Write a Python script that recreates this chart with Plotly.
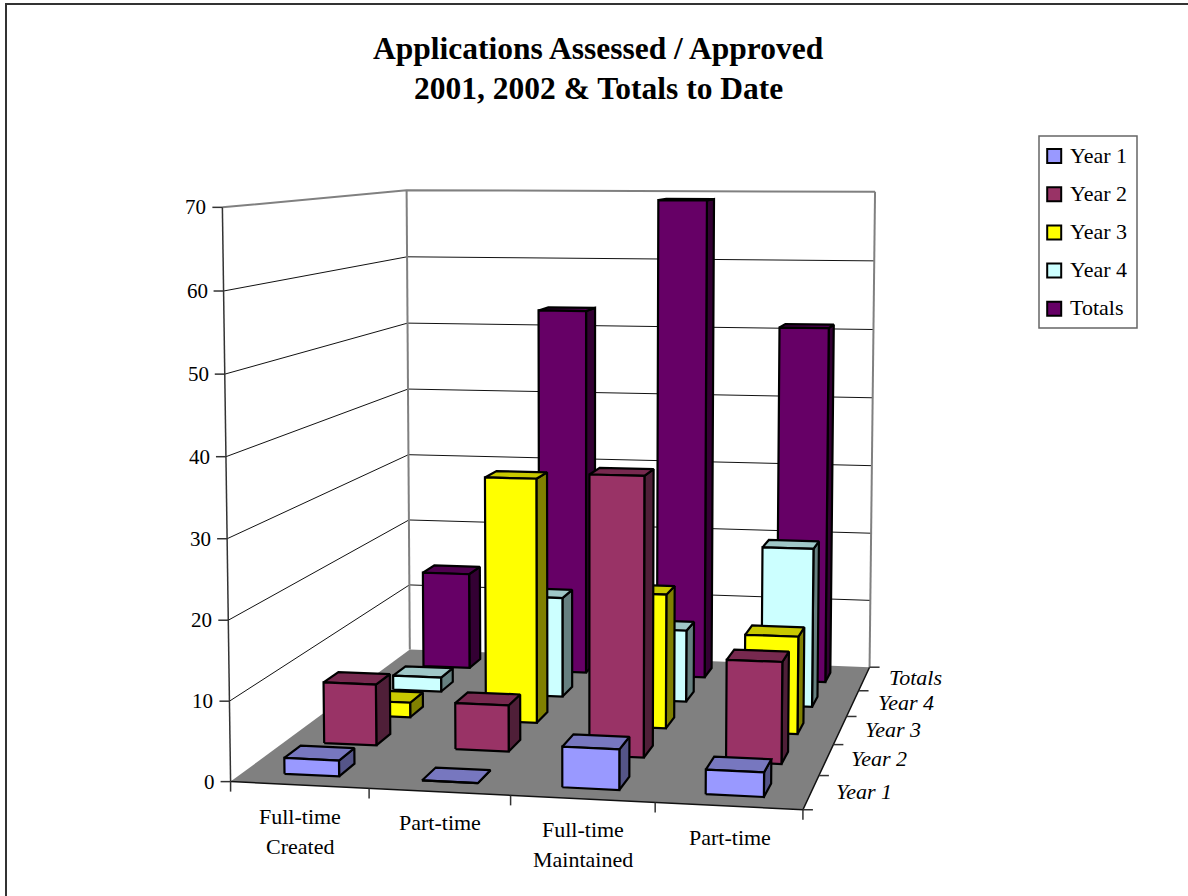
import numpy as np
import plotly.graph_objects as go

# Chart values
category_lines = [["Full-time", "Created"], ["Part-time"], ["Full-time", "Maintained"], ["Part-time"]]
series_names = ["Year 1", "Year 2", "Year 3", "Year 4", "Totals"]
year1 = [2, 0, 5, 3]
year2 = [8, 6, 36, 13]
year3 = [2, 33, 18, 13]
year4 = [2, 14, 10, 22]
totals = [14, 53, 69, 51]
value_ticks = [0, 10, 20, 30, 40, 50, 60, 70]
title_lines = ["Applications Assessed / Approved", "2001, 2002 & Totals to Date"]

# Face shades per series
front_colors = ["#9999FF", "#993366", "#FFFF00", "#CCFFFF", "#660066"]
top_colors = ["#7777BF", "#77294F", "#C8C800", "#9FC7C7", "#4F004F"]
side_colors = ["#555588", "#4F1F38", "#808000", "#668080", "#330033"]

WIDTH, HEIGHT = 1188, 896
SERIF = "Liberation Serif"
N_CAT, N_SER, Z_MAX = 4, 5, 70
BAR_LO, BAR_HI = 0.3, 0.7

# Perspective camera of the chart box, solved from where its corners sit on the page
box_corners = [
    ((0, 0, 0), (230.3, 781.7)), ((4, 0, 0), (803.3, 809.3)),
    ((4, 5, 0), (869.3, 667.7)), ((0, 5, 0), (410.0, 649.3)),
    ((0, 0, 70), (222.3, 207.7)), ((0, 5, 70), (406.7, 190.0)),
    ((4, 5, 70), (875.0, 191.7)),
]
rows = []
for (x, y, z), (u, v) in box_corners:
    rows.append([x, y, z, 1, 0, 0, 0, 0, -u * x, -u * y, -u * z, -u])
    rows.append([0, 0, 0, 0, x, y, z, 1, -v * x, -v * y, -v * z, -v])
CAMERA = np.linalg.svd(np.array(rows, float))[2][-1].reshape(3, 4)


def project(x, y, z):
    p = CAMERA @ np.array([x, y, z, 1.0])
    return p[0] / p[2], p[1] / p[2]


def polyline(points):
    xs, ys = zip(*[project(*p) for p in points])
    return list(xs), list(ys)


fig = go.Figure()


def add_line(points, color, width):
    xs, ys = polyline(points)
    fig.add_trace(go.Scatter(x=xs, y=ys, mode="lines", line=dict(color=color, width=width), hoverinfo="skip"))


def add_text(x, y, text, size=22, anchor="center", italic=False, bold=False):
    style = "italic" if italic else "normal"
    weight = "bold" if bold else "normal"
    fig.add_annotation(x=x, y=y, xref="x", yref="y", text=text, showarrow=False, xanchor=anchor, yanchor="middle",
                       font=dict(family=SERIF, size=size, color="black", style=style, weight=weight))


# Floor and walls
xs, ys = polyline([(0, 0, 0), (4, 0, 0), (4, 5, 0), (0, 5, 0), (0, 0, 0)])
fig.add_trace(go.Scatter(x=xs, y=ys, mode="lines", fill="toself", fillcolor="#808080", line=dict(width=0), hoverinfo="skip"))
for z in value_ticks[1:-1]:
    add_line([(0, 0, z), (0, 5, z), (4, 5, z)], "#111111", 1)
add_line([(0, 0, Z_MAX), (0, 5, Z_MAX), (4, 5, Z_MAX)], "#808080", 2)
add_line([(0, 5, 0), (0, 5, Z_MAX)], "#808080", 2)
add_line([(4, 5, 0), (4, 5, Z_MAX)], "#808080", 2)
add_line([(0, 0, 0), (0, 0, Z_MAX)], "#333333", 1.5)
add_line([(0, 0, 0), (4, 0, 0), (4, 5, 0)], "#111111", 1.5)

# Tick marks and tick labels
for z in value_ticks:
    u, v = project(0, 0, z)
    fig.add_trace(go.Scatter(x=[u - 10, u], y=[v, v], mode="lines", line=dict(color="#333333", width=1.5), hoverinfo="skip"))
    add_text(u - 14, v, str(z), size=21, anchor="right")
for c in range(N_CAT + 1):
    u, v = project(c, 0, 0)
    fig.add_trace(go.Scatter(x=[u, u], y=[v, v + 10], mode="lines", line=dict(color="#333333", width=1.5), hoverinfo="skip"))
for c, lines in enumerate(category_lines):
    u, v = project(c + 0.5, 0, 0)
    for n, text in enumerate(lines):
        add_text(u + 1, v + 31 + 30 * n, text)
for s in range(N_SER + 1):
    u, v = project(4, s, 0)
    fig.add_trace(go.Scatter(x=[u, u + 10], y=[v, v], mode="lines", line=dict(color="#333333", width=1.5), hoverinfo="skip"))
for s, name in enumerate(series_names):
    u, v = project(4, s + 0.5, 0)
    add_text(u + 23, v - 1, name, anchor="left", italic=True)

# Bars, back row first and right to left inside a row so nearer bars paint over farther ones
for s, values in reversed(list(enumerate([year1, year2, year3, year4, totals]))):
    for c, value in reversed(list(enumerate(values))):
        x0, x1 = c + BAR_LO, c + BAR_HI
        y0, y1 = s + BAR_LO, s + BAR_HI
        faces = [
            ([(x1, y0, 0), (x1, y1, 0), (x1, y1, value), (x1, y0, value)], side_colors[s]),
            ([(x0, y0, value), (x1, y0, value), (x1, y1, value), (x0, y1, value)], top_colors[s]),
            ([(x0, y0, 0), (x1, y0, 0), (x1, y0, value), (x0, y0, value)], front_colors[s]),
        ]
        for corners, color in faces:
            xs, ys = polyline(corners + corners[:1])
            fig.add_trace(go.Scatter(x=xs, y=ys, mode="lines", fill="toself", fillcolor=color,
                                     line=dict(color="black", width=2.2), name=series_names[s], hoverinfo="skip"))

# Legend box with swatches and names
LEGEND_X0, LEGEND_X1, LEGEND_Y0, LEGEND_Y1 = 1039, 1137, 136, 328
fig.add_shape(type="rect", xref="x", yref="y", x0=LEGEND_X0, x1=LEGEND_X1, y0=LEGEND_Y0, y1=LEGEND_Y1,
              line=dict(color="#666666", width=1.5), fillcolor="white", layer="below")
for s, name in enumerate(series_names):
    row_y = 156 + 38.2 * s
    fig.add_trace(go.Scatter(x=[1054.2], y=[row_y], mode="markers", name=name, hoverinfo="skip",
                             marker=dict(symbol="square", size=14, color=front_colors[s], line=dict(color="black", width=2))))
    add_text(1067.5, row_y - 1, name, anchor="left")

# Title
for n, text in enumerate(title_lines):
    add_text(598, 48 + 40 * n, text, size=31.5, bold=True)

# Chart frame, visible along the top and left
fig.add_shape(type="line", xref="x", yref="y", x0=5, x1=WIDTH, y0=4, y1=4, line=dict(color="#333333", width=2))
fig.add_shape(type="line", xref="x", yref="y", x0=6, x1=6, y0=4, y1=HEIGHT, line=dict(color="#333333", width=2))

hidden = dict(visible=False, fixedrange=True)
fig.update_layout(
    width=WIDTH, height=HEIGHT, margin=dict(l=0, r=0, t=0, b=0), showlegend=False,
    paper_bgcolor="white", plot_bgcolor="white",
    xaxis=dict(hidden, range=[0, WIDTH]), yaxis=dict(hidden, range=[HEIGHT, 0]),
)
fig.write_html("out.html", config=dict(displayModeBar=False))
